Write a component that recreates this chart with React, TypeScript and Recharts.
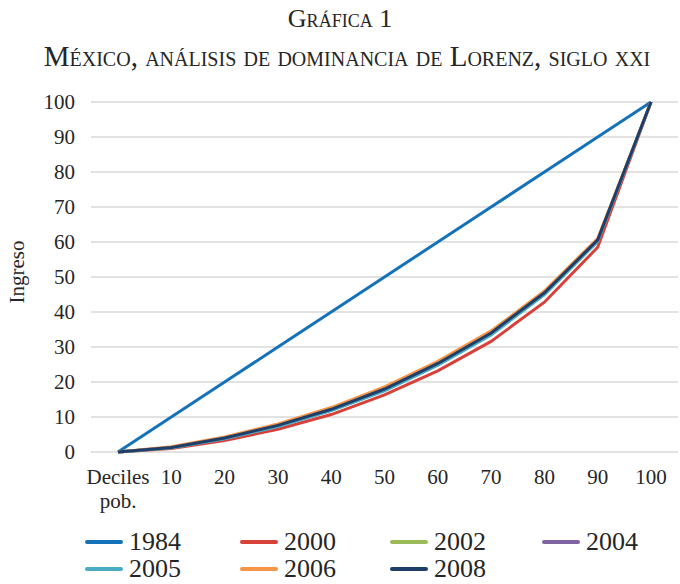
import React from 'react';
import { LineChart, Line, XAxis, YAxis, CartesianGrid, Legend } from 'recharts';

const categories = ['Deciles pob.', '10', '20', '30', '40', '50', '60', '70', '80', '90', '100'];
const yTicks = [0, 10, 20, 30, 40, 50, 60, 70, 80, 90, 100];

const s1984 = [0, 10, 20, 30, 40, 50, 60, 70, 80, 90, 100];
const s2000 = [0, 1.0, 3.3, 6.5, 10.7, 16.3, 23.2, 31.6, 42.8, 58.5, 100];
const s2002 = [0, 1.2, 3.9, 7.4, 11.9, 17.6, 24.9, 33.6, 45.1, 60.3, 100];
const s2004 = [0, 1.3, 3.9, 7.5, 12.0, 17.7, 25.0, 33.7, 45.2, 60.4, 100];
const s2005 = [0, 1.2, 3.8, 7.3, 11.8, 17.5, 24.8, 33.4, 45.0, 60.2, 100];
const s2006 = [0, 1.5, 4.3, 8.0, 12.7, 18.6, 25.9, 34.6, 46.0, 61.0, 100];
const s2008 = [0, 1.3, 4.0, 7.6, 12.2, 18.0, 25.3, 34.0, 45.5, 60.6, 100];

const seriesNames = ['1984', '2000', '2002', '2004', '2005', '2006', '2008'];
const seriesValues = [s1984, s2000, s2002, s2004, s2005, s2006, s2008];
const seriesColors = ['#1572b8', '#d8403a', '#9bbb59', '#8064a2', '#4bacc6', '#f79646', '#1f3f6b'];

const data = categories.map((cat, i) => {
  const row: Record<string, string | number> = { cat };
  seriesNames.forEach((n, j) => {
    row[n] = seriesValues[j][i];
  });
  return row;
});

const FONT = '"Liberation Serif", "Times New Roman", serif';
const TEXT_COLOR = '#262626';

const XTick = (props: any) => {
  const { x, y, payload } = props;
  const parts = String(payload.value).split(' ');
  return (
    <g>
      {parts.map((p: string, i: number) => (
        <text
          key={i}
          x={x}
          y={y + 24 + i * 24}
          textAnchor="middle"
          fill={TEXT_COLOR}
          fontSize={21}
          fontFamily={FONT}
        >
          {p}
        </text>
      ))}
    </g>
  );
};

const LegendContent = (props: any) => {
  const payload = props.payload || [];
  const colX = [85, 240, 390, 542];
  return (
    <div style={{ position: 'relative', width: 680, height: 56 }}>
      {payload.map((item: any, i: number) => {
        const col = i % 4;
        const row = Math.floor(i / 4);
        return (
          <div
            key={item.value}
            style={{
              position: 'absolute',
              left: colX[col],
              top: row * 27,
              height: 27,
              display: 'flex',
              alignItems: 'center',
              fontFamily: FONT,
              fontSize: 26,
              color: TEXT_COLOR,
              lineHeight: '27px',
            }}
          >
            <span
              style={{
                display: 'inline-block',
                width: 38,
                height: 4,
                borderRadius: 2,
                background: item.color,
                marginRight: 6,
              }}
            />
            <span>{item.value}</span>
          </div>
        );
      })}
    </div>
  );
};

export default function App() {
  return (
    <div style={{ position: 'absolute', left: 0, top: 0, width: 680, height: 584, background: '#fff' }}>
      <div
        style={{
          position: 'absolute',
          top: 4,
          left: 0,
          width: 680,
          textAlign: 'center',
          fontFamily: FONT,
          fontSize: 26,
          fontVariant: 'small-caps',
          color: TEXT_COLOR,
          lineHeight: '30px',
        }}
      >
        Gráfica 1
      </div>
      <div
        style={{
          position: 'absolute',
          top: 41,
          left: 7,
          width: 680,
          textAlign: 'center',
          fontFamily: FONT,
          fontSize: 29,
          fontVariant: 'small-caps',
          color: TEXT_COLOR,
          lineHeight: '30px',
        }}
      >
        México, análisis de dominancia de Lorenz, siglo xxi
      </div>
      <LineChart
        width={680}
        height={584}
        data={data}
        margin={{ top: 102, right: 2, bottom: 0, left: 0 }}
        style={{ position: 'absolute', left: 0, top: 0 }}
      >
        <CartesianGrid vertical={false} stroke="#d9d9d9" strokeWidth={1.5} />
        <XAxis
          dataKey="cat"
          interval={0}
          tickLine={false}
          axisLine={false}
          height={76}
          padding={{ left: 27, right: 27 }}
          tick={<XTick />}
        />
        <YAxis
          domain={[0, 100]}
          ticks={yTicks}
          interval={0}
          width={91}
          tickLine={false}
          axisLine={false}
          tickMargin={10}
          tick={{ fill: TEXT_COLOR, fontSize: 21, fontFamily: FONT }}
          label={{
            content: (p: any) => {
              const vb = p.viewBox || {};
              const cx = vb.x + 17;
              const cy = vb.y + vb.height / 2 - 5;
              return (
                <text
                  x={cx}
                  y={cy}
                  transform={`rotate(-90 ${cx} ${cy})`}
                  textAnchor="middle"
                  dominantBaseline="central"
                  fill={TEXT_COLOR}
                  fontSize={21}
                  fontFamily={FONT}
                >
                  Ingreso
                </text>
              );
            },
          }}
        />
        <Legend
          verticalAlign="bottom"
          content={<LegendContent />}
          wrapperStyle={{ left: 0, top: 528, width: 680, height: 56 }}
        />
        {seriesNames.map((n, j) => (
          <Line
            key={n}
            type="linear"
            dataKey={n}
            stroke={seriesColors[j]}
            strokeWidth={3}
            dot={false}
            activeDot={false}
            isAnimationActive={false}
          />
        ))}
      </LineChart>
    </div>
  );
}
